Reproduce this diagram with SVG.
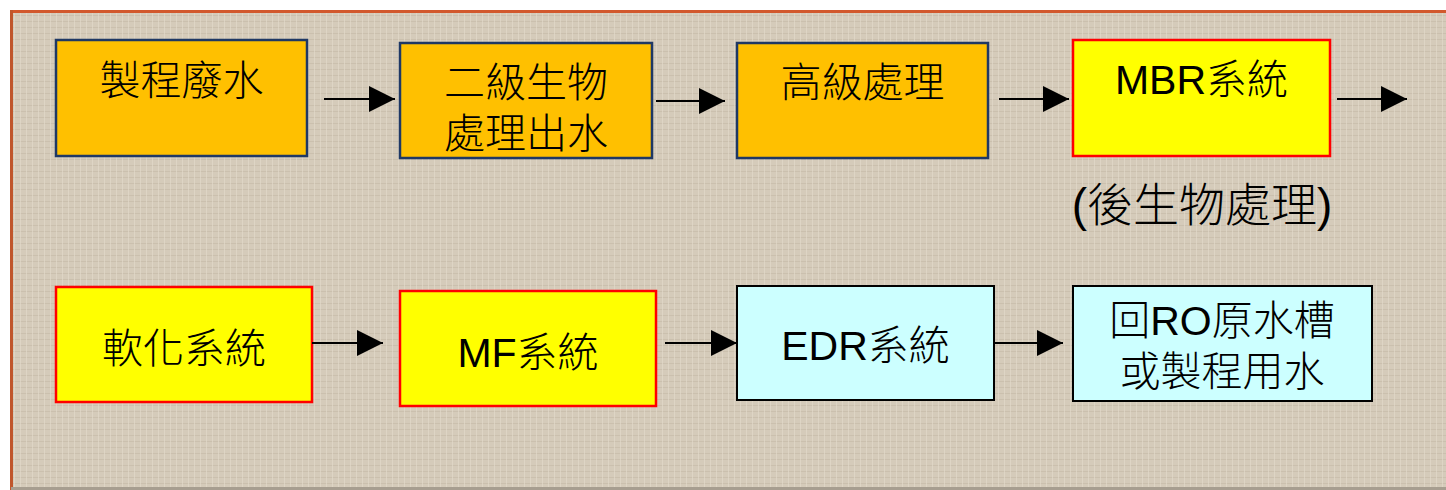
<svg xmlns="http://www.w3.org/2000/svg" width="1446" height="490" viewBox="0 0 1446 490">
  <defs>
    <pattern id="linen" x="0" y="0" width="12" height="12" patternUnits="userSpaceOnUse">
      <rect width="12" height="12" fill="#D5CBBA"/>
      <path d="M0 3.5H12M0 9.5H12" stroke="#C4B9A6" stroke-width="1" opacity="0.6"/>
      <path d="M2.5 0V12M8.5 0V12" stroke="#E4DCCD" stroke-width="1" opacity="0.6"/>
    </pattern>
    <marker id="arrow" markerWidth="26" markerHeight="26" refX="26" refY="13" orient="auto" markerUnits="userSpaceOnUse">
      <path d="M0 0L26 13L0 26Z" fill="#000"/>
    </marker>
  </defs>
  <style>
    .orange { fill: #FFC000; stroke: #1F3864; stroke-width: 2.5; }
    .yellow { fill: #FFFF00; stroke: #FF0000; stroke-width: 2.5; }
    .cyan { fill: #CCFFFF; stroke: #000000; stroke-width: 2; }
    .t { font-family: "Liberation Sans", "Noto Sans CJK TC", sans-serif; font-size: 41px; fill: #000; text-anchor: middle; }
    .c { font-weight: 300; }
    .conn line { stroke: #000; stroke-width: 2; marker-end: url(#arrow); }
  </style>

  <rect x="0" y="0" width="1446" height="490" fill="#FFFFFF"/>
  <rect x="11" y="11" width="1435" height="479" fill="url(#linen)"/>
  <line x1="11" y1="11.5" x2="1446" y2="11.5" stroke="#D2582C" stroke-width="3"/>
  <line x1="11.5" y1="10" x2="11.5" y2="490" stroke="#C0562C" stroke-width="3"/>
  <line x1="11" y1="488.5" x2="1446" y2="488.5" stroke="#A79E90" stroke-width="3"/>

  <g id="n1">
    <rect class="orange" x="56" y="40" width="251" height="116"/>
    <text class="t c" x="181.5" y="95">製程廢水</text>
  </g>
  <g id="n2">
    <rect class="orange" x="400" y="43" width="252" height="115"/>
    <text class="t c" x="526" y="97">二級生物</text>
    <text class="t c" x="526" y="148">處理出水</text>
  </g>
  <g id="n3">
    <rect class="orange" x="737" y="43" width="251" height="115"/>
    <text class="t c" x="862.5" y="97">高級處理</text>
  </g>
  <g id="n4">
    <rect class="yellow" x="1073" y="40" width="257" height="116"/>
    <text class="t" x="1201.5" y="94">MBR<tspan class="c">系統</tspan></text>
  </g>
  <g id="n4label">
    <text class="t" x="1202" y="221" style="font-size:46px">(<tspan class="c">後生物處理</tspan>)</text>
  </g>
  <g id="n5">
    <rect class="yellow" x="56" y="287" width="256" height="115"/>
    <text class="t c" x="184" y="363">軟化系統</text>
  </g>
  <g id="n6">
    <rect class="yellow" x="400" y="291" width="256" height="115"/>
    <text class="t" x="528" y="367">MF<tspan class="c">系統</tspan></text>
  </g>
  <g id="n7">
    <rect class="cyan" x="737" y="286" width="257" height="114"/>
    <text class="t" x="865.5" y="360">EDR<tspan class="c">系統</tspan></text>
  </g>
  <g id="n8">
    <rect class="cyan" x="1073" y="286" width="299" height="115"/>
    <text class="t" x="1222" y="335"><tspan class="c">回</tspan>RO<tspan class="c">原水槽</tspan></text>
    <text class="t c" x="1222" y="386">或製程用水</text>
  </g>

  <g class="conn" id="connectors">
    <line x1="324" y1="99" x2="395" y2="99"/>
    <line x1="656" y1="101" x2="725" y2="101"/>
    <line x1="999" y1="99" x2="1069" y2="99"/>
    <line x1="1337" y1="99" x2="1407" y2="99"/>
    <line x1="312" y1="343" x2="383" y2="343"/>
    <line x1="665" y1="343" x2="737" y2="343"/>
    <line x1="994" y1="343" x2="1063" y2="343"/>
  </g>
</svg>
